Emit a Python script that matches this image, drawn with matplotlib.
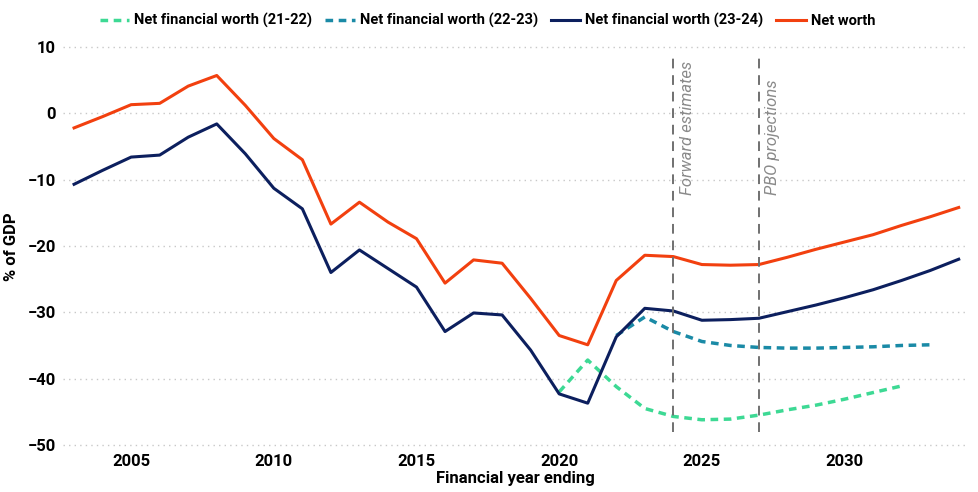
import numpy as np
import matplotlib.pyplot as plt

# data (% of GDP, financial year ending)
years_nw = list(range(2003, 2035))
net_worth = [-2.2, -0.5, 1.3, 1.5, 4.1, 5.7, 1.2, -3.8, -7.0, -16.7,
             -13.4, -16.4, -18.9, -25.6, -22.1, -22.6, -27.9, -33.5, -34.9, -25.2,
             -21.4, -21.6, -22.8, -22.9, -22.8, -21.7, -20.5, -19.4, -18.3, -16.9,
             -15.6, -14.2]

years_nfw_2324 = list(range(2003, 2035))
nfw_2324 = [-10.7, -8.6, -6.6, -6.3, -3.6, -1.6, -6.1, -11.3, -14.4, -24.0,
            -20.6, -23.4, -26.2, -32.9, -30.1, -30.4, -35.7, -42.3, -43.7, -33.7,
            -29.4, -29.8, -31.2, -31.1, -30.9, -29.9, -28.9, -27.8, -26.6, -25.2,
            -23.7, -22.0]

years_nfw_2223 = list(range(2022, 2034))
nfw_2223 = [-33.5, -30.7, -32.9, -34.4, -35.0, -35.3, -35.4, -35.4, -35.3, -35.2,
            -35.0, -34.9]

years_nfw_2122 = list(range(2020, 2033))
nfw_2122 = [-42.0, -37.2, -41.2, -44.5, -45.7, -46.2, -46.1, -45.5, -44.7, -44.0,
            -43.1, -42.1, -41.1]

markers_x = [2024, 2027]
markers_text = ['Forward estimates', 'PBO projections']

x_ticks = [2005, 2010, 2015, 2020, 2025, 2030]
y_ticks = [-50, -40, -30, -20, -10, 0, 10]

plt.rcParams['font.family'] = ['Roboto', 'DejaVu Sans']

fig = plt.figure(figsize=(9.79, 4.92), dpi=100)
# axes placed so that 10 sits at ~47px and -50 at ~445px
ax = fig.add_axes([0.064, 1 - 451.6 / 492, 0.924, (451.6 - 33.7) / 492])

ax.plot(years_nfw_2122, nfw_2122, color='#3dd994', linewidth=2.5,
        linestyle=(0, (2.2, 1.6)), label='Net financial worth (21-22)')
ax.plot(years_nfw_2223, nfw_2223, color='#1a8aa6', linewidth=2.5,
        linestyle=(0, (2.2, 1.6)), label='Net financial worth (22-23)')
ax.plot(years_nfw_2324, nfw_2324, color='#0c1f5e', linewidth=2.2,
        label='Net financial worth (23-24)')
ax.plot(years_nw, net_worth, color='#f2400f', linewidth=2.2,
        label='Net worth')

for xv, txt in zip(markers_x, markers_text):
    ax.vlines(xv, -48, 8.3, colors='#707070', linestyles=(0, (5, 3.5)), linewidth=1.4)
    ax.text(xv + 0.48, -12.3, txt, rotation=90, ha='center', va='bottom',
            fontsize=12, style='italic', color='#8a8a8a')

ax.set_xlim(2002.6, 2034.3)
ax.set_ylim(-51, 12)
ax.set_xticks(x_ticks)
ax.set_yticks(y_ticks)
ax.tick_params(length=0, labelsize=12, pad=2)
ax.tick_params(axis='y', pad=5)
for lab in ax.get_xticklabels() + ax.get_yticklabels():
    lab.set_fontweight('bold')
ax.grid(axis='y', color='#c8c8c8', linestyle=(0, (1, 3)), linewidth=1)
for s in ax.spines.values():
    s.set_visible(False)

ax.set_xlabel('Financial year ending', fontsize=12, fontweight='bold', labelpad=1)
ax.set_ylabel('% of GDP', fontsize=12, fontweight='bold')
ax.yaxis.set_label_coords(-0.048, 0.49)

leg = fig.legend(*ax.get_legend_handles_labels(), loc='center',
                 bbox_to_anchor=(0.498, 1 - 20.7 / 492), ncol=4, frameon=False,
                 prop={'size': 10.5, 'weight': 'bold'}, handlelength=2.0,
                 columnspacing=0.9, handletextpad=0.35)

plt.savefig('out.png', dpi=100)
